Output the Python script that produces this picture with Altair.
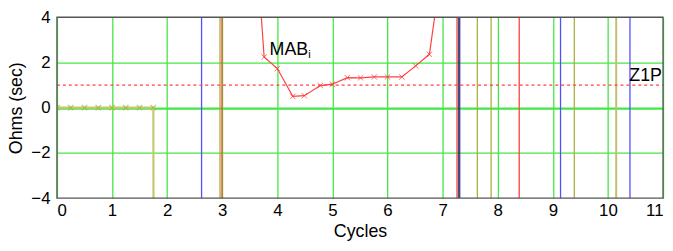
import altair as alt
import pandas as pd

# ---- data ----
olive_x = [0.0, 0.25, 0.5, 0.75, 1.0, 1.25, 1.5, 1.75, 1.76]
olive_y = [0, 0, 0, 0, 0, 0, 0, 0, -20]

red_x = [3.51, 3.76, 4.0, 4.28, 4.49, 4.78, 5.0, 5.27, 5.51, 5.76, 6.0, 6.26, 6.51, 6.76, 7.01]
red_y = [11.0, 2.24, 1.73, 0.5, 0.53, 0.98, 1.04, 1.33, 1.32, 1.36, 1.36, 1.36, 1.85, 2.36, 6.7]

event_x = [2.625, 2.96, 2.995, 7.26, 7.285, 7.31, 7.63, 7.88, 8.39, 9.14, 9.39, 10.15, 10.40]
event_color = ["#5050ff", "#a0b030", "#ff4040", "#ff5050", "#333300", "#3030d0",
               "#a8b040", "#a8b040", "#ff4040", "#5050ff", "#a8b040", "#c0c070", "#5050ff"]
event_width = [1.3, 1.3, 1.3, 1.3, 1.0, 1.3, 1.3, 1.3, 1.3, 1.3, 1.3, 2.0, 1.3]

z1p_level = [1.0]
x_ticks = list(range(0, 12))
y_ticks = [-4, -2, 0, 2, 4]

left_text = ["MAB", "i"]
left_x = [3.86, 4.56]
left_y = [2.33, 2.2]
left_size = [18, 11]
right_text = ["Z1P"]
right_x = [10.98]
right_y = [1.2]

FONT = "Liberation Sans"
GREEN = "#44e844"

olive_df = pd.DataFrame({"x": olive_x, "y": olive_y})
red_df = pd.DataFrame({"x": red_x, "y": red_y})
ev_df = pd.DataFrame({"x": event_x, "c": event_color, "w": event_width})
z_df = pd.DataFrame({"y": z1p_level})
lt_df = pd.DataFrame({"t": left_text, "x": left_x, "y": left_y, "s": left_size})
rt_df = pd.DataFrame({"t": right_text, "x": right_x, "y": right_y})

xs = alt.Scale(domain=[0, 11], nice=False)
ys = alt.Scale(domain=[-4, 4], nice=False)

X = lambda f="x": alt.X(f"{f}:Q", scale=xs, axis=alt.Axis(
    values=x_ticks, format="d", title="Cycles", grid=True, gridColor=GREEN, gridWidth=1.3,
    ticks=False, domain=False, labelFont=FONT, labelFontSize=17, labelColor="#000",
    labelPadding=5, titleFont=FONT, titleFontSize=18, titleFontWeight="normal",
    titleColor="#000", titlePadding=4))
Y = lambda f="y": alt.Y(f"{f}:Q", scale=ys, axis=alt.Axis(
    values=y_ticks, format="d", title="Ohms (sec)", grid=True,
    gridColor={"condition": {"test": "abs(datum.value) == 4", "value": "transparent"}, "value": GREEN},
    gridWidth={"condition": {"test": "datum.value == 0", "value": 2.2}, "value": 1.3},
    ticks=False, domain=False, labelFont=FONT, labelFontSize=17, labelColor="#000",
    labelPadding=7, titleFont=FONT, titleFontSize=18, titleFontWeight="normal",
    titleColor="#000", titlePadding=5))

events = alt.Chart(ev_df).mark_rule(clip=True).encode(
    x=X(), y=alt.datum(-4, scale=ys), y2=alt.datum(4),
    color=alt.Color("c:N", scale=None),
    strokeWidth=alt.StrokeWidth("w:Q", scale=None))

zline = alt.Chart(z_df).mark_rule(color="#ff4040", strokeDash=[3, 3], strokeWidth=1.2).encode(
    y=Y(), x=alt.datum(0, scale=xs), x2=alt.datum(11))

XSHAPE = "M-1,-1L1,1M-1,1L1,-1"

olive_line = alt.Chart(olive_df).mark_line(clip=True, color="#c4c870", strokeWidth=2.2).encode(
    x=X(), y=Y(), order="x:Q")
olive_pts = alt.Chart(olive_df).mark_point(clip=True, shape=XSHAPE, filled=False,
                                           color="#a8b040", size=30, strokeWidth=1.2).encode(x=X(), y=Y())

red_line = alt.Chart(red_df).mark_line(clip=True, color="#ff4040", strokeWidth=1.2).encode(
    x=X(), y=Y(), order="x:Q")
red_pts = alt.Chart(red_df).mark_point(clip=True, shape=XSHAPE, filled=False,
                                       color="#ff3030", size=30, strokeWidth=1.0).encode(x=X(), y=Y())

ltexts = alt.Chart(lt_df).mark_text(font=FONT, color="#000", baseline="alphabetic", align="left").encode(
    x=X(), y=Y(), text="t:N", size=alt.Size("s:Q", scale=None))
rtexts = alt.Chart(rt_df).mark_text(font=FONT, color="#000", baseline="alphabetic", align="right",
                                    fontSize=18).encode(x=X(), y=Y(), text="t:N")

frame = alt.Chart(z_df).mark_rect(filled=False, stroke="#555555", strokeWidth=1.3).encode(
    x=alt.datum(0, scale=xs), x2=alt.datum(11), y=alt.datum(-4, scale=ys), y2=alt.datum(4))

chart = alt.layer(events, zline, olive_line, olive_pts, red_line, red_pts, ltexts, rtexts, frame).properties(
    width=613, height=183,
    autosize=alt.AutoSizeParams(type="none"),
    padding={"left": 49.5, "top": 8, "right": 2, "bottom": 44},
    background="white",
).configure_view(stroke=None)

chart.save("out.html", embed_options={"renderer": "svg", "actions": False})
